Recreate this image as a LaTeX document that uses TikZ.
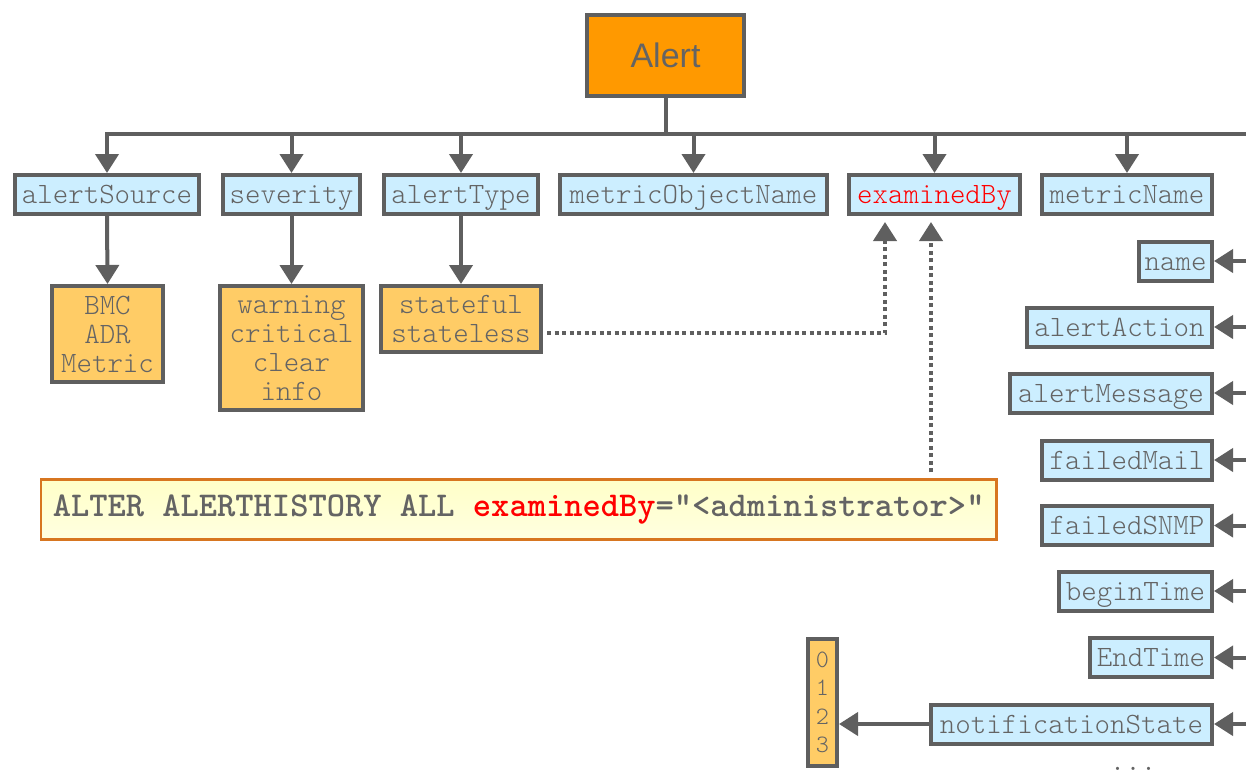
\documentclass[tikz,border=0pt]{standalone}
\usepackage{fontspec}
\setmainfont{Liberation Sans}
\setsansfont{Liberation Sans}
\setmonofont{Latin Modern Mono Light}
\usetikzlibrary{arrows.meta}

\definecolor{edge}{HTML}{5F5F5F}
\definecolor{ink}{HTML}{646464}
\definecolor{fieldfill}{HTML}{CCEEFF}
\definecolor{valfill}{HTML}{FFCC66}
\definecolor{rootfill}{HTML}{FF9900}
\definecolor{keyred}{HTML}{FF0000}
\definecolor{noteline}{HTML}{D77620}
\definecolor{notetop}{HTML}{FFFFC8}
\definecolor{notebottom}{HTML}{FFFFE0}

\begin{document}
\begin{tikzpicture}[x=1pt,y=-1pt,
  box/.style={draw=edge,line width=4pt,inner sep=0pt,text=ink,align=center,
    font=\fontsize{29.5}{29}\selectfont\ttfamily},
  field/.style={box,fill=fieldfill,minimum height=39pt,text height=23pt,text depth=5pt},
  values/.style={box,fill=valfill},
  link/.style={draw=edge,line width=4pt},
  arrow/.style={link,-{Triangle[length=19pt,width=23pt]}},
  dotlink/.style={draw=edge,line width=4pt,dash pattern=on 4pt off 3.5pt,
    -{Triangle[length=19pt,width=23pt]},shorten >=6pt},
  entry/.style={arrow}]

\useasboundingbox (0,0) rectangle (1246,774);

% root
\node[box,fill=rootfill,font=\fontsize{34}{38}\selectfont\sffamily,
  minimum width=157pt,minimum height=81pt] (alert) at (665.5,55.5) {Alert};

% first level fields
\node[field,minimum width=184pt] (alertSource) at (107,194.5) {alertSource};
\node[field,minimum width=137pt] (severity) at (291.5,194.5) {severity};
\node[field,minimum width=154pt] (alertType) at (461,194.5) {alertType};
\node[field,minimum width=267pt] (metricObjectName) at (693.5,194.5) {metricObjectName};
\node[field,minimum width=171pt,text=keyred] (examinedBy) at (934.5,194.5) {examinedBy};
\node[field,minimum width=170pt] (metricName) at (1127,194.5) {metricName};

% value lists
\node[values,minimum width=111pt,minimum height=96pt] (sources) at (107.5,334) {BMC\\ADR\\Metric};
\node[values,minimum width=143pt,minimum height=124pt] (levels) at (291.5,348) {warning\\critical\\clear\\info};
\node[values,minimum width=160pt,minimum height=66pt] (types) at (461,319) {stateful\\stateless};

% right-hand column of fields
\node[field,minimum width=73pt] (name) at (1175.5,261) {name};
\node[field,minimum width=185pt] (alertAction) at (1119.5,327) {alertAction};
\node[field,minimum width=202pt] (alertMessage) at (1111,393) {alertMessage};
\node[field,minimum width=170pt] (failedMail) at (1127,460) {failedMail};
\node[field,minimum width=170pt] (failedSNMP) at (1127,525.5) {failedSNMP};
\node[field,minimum width=153pt] (beginTime) at (1135.5,591) {beginTime};
\node[field,minimum width=122pt] (EndTime) at (1151,657.5) {EndTime};
\node[field,minimum width=281pt] (notificationState) at (1071.5,724) {notificationState};
\node[values,minimum width=29pt,minimum height=127pt,
  font=\fontsize{25}{28.5}\selectfont\ttfamily] (states) at (822.5,702.5) {0\\1\\2\\3};
\node[text=ink,font=\fontsize{29.5}{29}\selectfont\ttfamily,anchor=base,inner sep=0pt,
  text depth=0pt] (more) at (1133,770) {...};

% command callout
\node[draw=noteline,line width=2.5pt,top color=notetop,bottom color=notebottom,
  anchor=west,inner xsep=12pt,inner ysep=0pt,minimum height=60pt,text=ink,
  font=\fontsize{34.8}{36}\selectfont\ttfamily\bfseries] (note) at (39.5,509.5)
  {ALTER ALERTHISTORY ALL \textcolor{keyred}{examinedBy}="<administrator>"};

% tree connectors
\coordinate (busL) at (107,134);
\coordinate (busR) at (1246,134);
\draw[link] (alert.south) -- (alert.south |- busL);
\draw[link,line cap=rect] (busL) -- (busR);
\foreach \f in {alertSource,severity,alertType,metricObjectName,examinedBy,metricName}
  \draw[arrow] (\f.north |- busL) -- (\f.north);

\draw[arrow] (alertSource.south) -- (sources.north);
\draw[arrow] (severity.south) -- (levels.north);
\draw[arrow] (alertType.south) -- (types.north);

\foreach \f in {name,alertAction,alertMessage,failedMail,failedSNMP,beginTime,EndTime,notificationState}
  \draw[entry] (\f.east -| busR) -- (\f.east);

\draw[arrow] (notificationState.west) -- (states.east |- notificationState.west);

% dotted references to examinedBy
\coordinate (bend) at (885,333);
\coordinate (tap) at (931,0);
\draw[dotlink] (types.east |- bend) ++(4pt,0) -- (bend) -- (bend |- examinedBy.south);
\draw[dotlink,shorten <=6pt] (tap |- note.north) -- (tap |- examinedBy.south);

\end{tikzpicture}
\end{document}
